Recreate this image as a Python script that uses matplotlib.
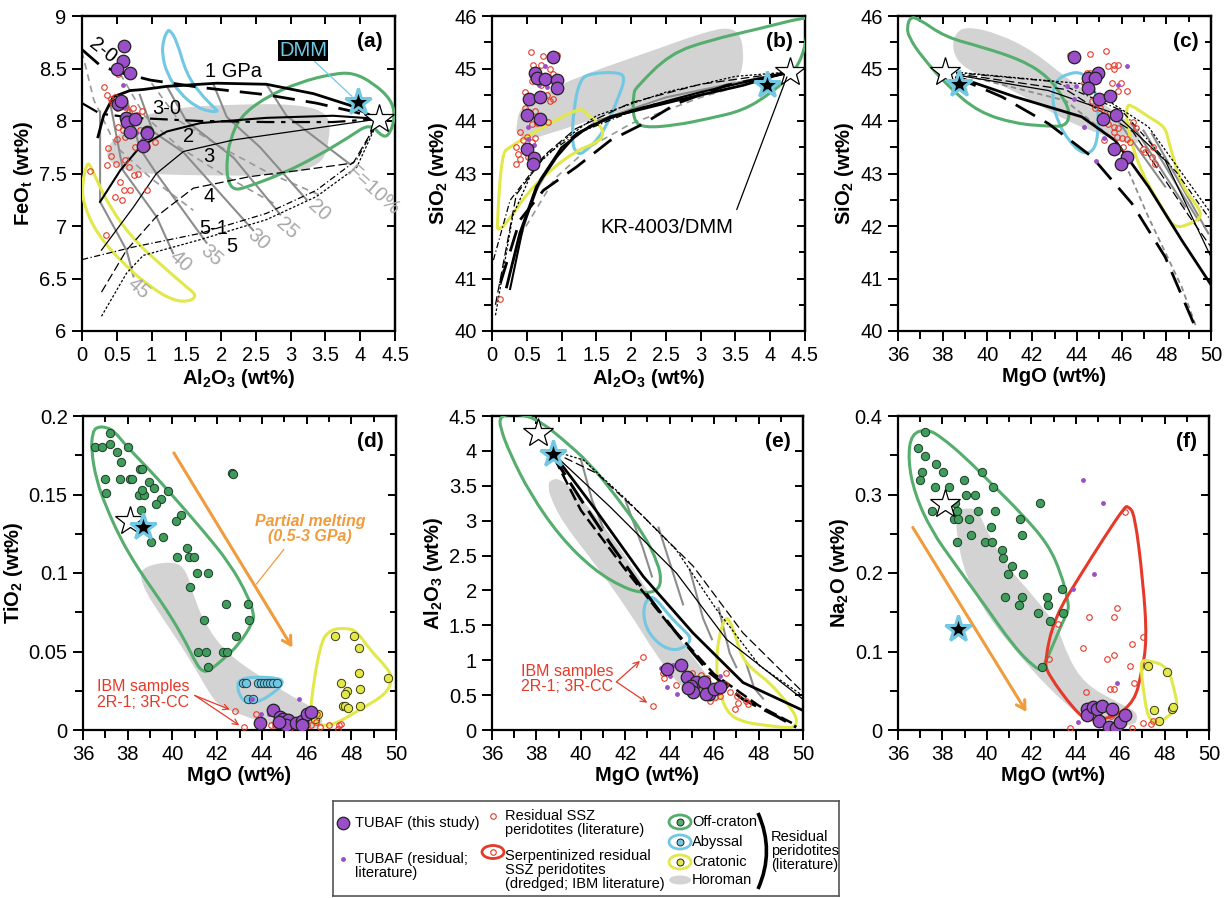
import numpy as np
import matplotlib
matplotlib.use('Agg')
import matplotlib.pyplot as plt
from matplotlib import font_manager
from matplotlib.path import Path
from matplotlib.patches import PathPatch, Ellipse
from matplotlib.ticker import MultipleLocator, FuncFormatter, NullLocator

plt.rcParams['font.family'] = ['Liberation Sans', 'DejaVu Sans']
plt.rcParams['mathtext.fontset'] = 'custom'
plt.rcParams['mathtext.rm'] = 'Liberation Sans'
plt.rcParams['mathtext.bf'] = 'Liberation Sans:bold'
plt.rcParams['mathtext.it'] = 'Liberation Sans:italic'

_names = {f.name for f in font_manager.fontManager.ttflist}
NARROW = 'Liberation Sans Narrow' in _names
LEG_FAMILY = ['Liberation Sans Narrow', 'Liberation Sans'] if NARROW else ['Liberation Sans']
LEG_FS = 12.5 if NARROW else 10.5

GREEN = '#55ad6e'
GREEN_DOT = '#3f9c5c'
BLUE = '#72c8e2'
YELLOW = '#e2e84a'
RED = '#e53a2a'
PURPLE = '#9a4fc8'
GREY_FILL = '#d3d3d3'
ORANGE = '#f09b3c'

# ---------------- stars (KR-4003 / DMM) ----------------
kr_a = (4.27, 8.02); dmm_a = (3.97, 8.18)
kr_b = (4.28, 44.93); dmm_b = (3.95, 44.68)
kr_c = (38.11, 44.93); dmm_c = (38.71, 44.70)
kr_d = (38.12, 0.133); dmm_d = (38.69, 0.129)
kr_e = (38.08, 4.25); dmm_e = (38.76, 3.96)
kr_f = (38.13, 0.288); dmm_f = (38.70, 0.129)

# ---------------- panel (a) FeOt vs Al2O3 ----------------
a_tub_al = [0.61, 0.59, 0.50, 0.69, 0.52, 0.56, 0.63, 0.64, 0.76, 0.69, 0.93, 0.94, 0.87]
a_tub_fe = [8.71, 8.57, 8.50, 8.46, 8.16, 8.19, 8.03, 7.99, 8.02, 7.90, 7.90, 7.89, 7.76]
a_res_al = [0.54, 0.59, 0.62, 0.78, 0.86, 0.93]
a_res_fe = [8.71, 8.34, 8.13, 7.89, 7.82, 7.86]
a_ssz_al = [0.12, 0.34, 0.31, 0.36, 0.41, 0.47, 0.43, 0.50, 0.62, 0.67, 0.74, 0.79, 0.86, 0.59,
            0.52, 0.74, 0.83, 0.50, 0.62, 0.76, 0.37, 0.41, 0.49, 0.36, 0.62, 0.67, 0.75, 0.81,
            0.55, 0.60, 0.69, 0.93, 0.57, 0.47, 0.93, 1.05, 0.52]
a_ssz_fe = [7.52, 6.91, 8.32, 8.25, 8.21, 8.23, 8.18, 8.12, 8.13, 8.09, 8.12, 8.06, 8.10, 7.91,
            7.94, 7.90, 7.91, 7.83, 7.85, 7.75, 7.74, 7.67, 7.59, 7.58, 7.63, 7.56, 7.49, 7.50,
            7.42, 7.34, 7.34, 7.34, 7.25, 7.28, 7.75, 7.80, 8.45]
a_blue_x = [1.17, 1.22, 1.26, 1.36, 1.50, 1.70, 1.91, 1.96, 1.84, 1.65, 1.41, 1.22, 1.15]
a_blue_y = [8.77, 8.85, 8.87, 8.77, 8.45, 8.26, 8.12, 8.09, 8.09, 8.13, 8.26, 8.45, 8.64]
a_green_x = [2.08, 2.13, 2.27, 2.65, 3.13, 3.61, 3.90, 4.19, 4.45, 4.50, 4.43, 4.33, 4.14, 3.85,
             3.37, 2.89, 2.37, 2.18, 2.09]
a_green_y = [7.63, 7.82, 8.04, 8.23, 8.37, 8.45, 8.46, 8.36, 8.20, 8.04, 7.88, 7.84, 7.98, 7.85,
             7.66, 7.50, 7.37, 7.34, 7.44]
a_yel_x = [0.07, 0.12, 0.21, 0.40, 0.74, 1.12, 1.50, 1.65, 1.55, 1.31, 0.98, 0.59, 0.21, 0.02, 0.0]
a_yel_y = [7.60, 7.58, 7.44, 7.18, 6.87, 6.64, 6.42, 6.34, 6.28, 6.29, 6.42, 6.64, 6.93, 7.21, 7.40]
a_hor_x = [0.40, 0.74, 1.22, 2.18, 3.13, 3.56, 3.56, 3.45, 2.89, 1.70, 0.74, 0.40, 0.35]
a_hor_y = [7.79, 8.01, 8.12, 8.16, 8.16, 8.07, 7.82, 7.58, 7.48, 7.48, 7.50, 7.60, 7.69]
# melting models
a_1gpa_x = [0.23, 0.31, 0.45, 0.69, 0.88, 1.22, 1.94, 2.65, 3.33, 3.85, 4.19, 4.27]
a_1gpa_y = [7.85, 8.05, 8.23, 8.29, 8.30, 8.33, 8.36, 8.35, 8.26, 8.15, 8.04, 8.02]
a_20_x = [0.0, 0.26, 0.50, 0.98, 1.70, 2.65, 3.37, 3.90, 4.27]
a_20_y = [8.68, 8.53, 8.47, 8.39, 8.32, 8.25, 8.17, 8.09, 8.02]
a_30_x = [0.0, 0.26, 0.74, 1.70, 2.65, 3.61, 4.27]
a_30_y = [8.17, 8.07, 8.03, 8.00, 7.99, 7.99, 8.02]
a_2_x = [0.26, 0.55, 0.83, 1.22, 1.70, 2.65, 3.61, 4.27]
a_2_y = [7.23, 7.53, 7.75, 7.90, 7.98, 8.03, 8.05, 8.02]
a_3_x = [0.28, 0.74, 1.07, 1.46, 2.18, 3.13, 4.27]
a_3_y = [6.77, 7.18, 7.50, 7.71, 7.82, 7.91, 8.02]
a_4_x = [0.28, 0.64, 1.07, 1.60, 2.41, 3.13, 3.90, 4.27]
a_4_y = [6.37, 6.77, 7.09, 7.36, 7.47, 7.53, 7.60, 8.02]
a_51_x = [0.0, 0.74, 1.70, 2.65, 3.37, 3.95, 4.27]
a_51_y = [6.68, 6.80, 6.93, 7.12, 7.34, 7.63, 8.02]
a_5_x = [0.28, 0.64, 0.88, 1.70, 2.65, 3.37, 3.95, 4.27]
a_5_y = [6.14, 6.55, 6.72, 6.87, 7.06, 7.28, 7.56, 8.02]
a_iso_x = [[2.65, 2.94, 3.85], [1.89, 2.08, 2.56, 3.23], [1.22, 1.50, 2.18, 2.85],
           [0.83, 1.02, 1.46, 2.46], [0.64, 0.83, 1.07, 1.79], [0.40, 0.59, 1.07, 1.31],
           [0.26, 0.26, 0.64, 0.74]]
a_iso_y = [[8.35, 8.05, 7.59], [8.35, 8.04, 7.75, 7.25], [8.33, 8.00, 7.65, 7.11],
           [8.25, 7.90, 7.70, 6.96], [8.22, 7.74, 7.50, 6.84], [8.19, 7.53, 7.09, 6.74],
           [8.09, 7.23, 6.77, 6.52]]
a_iso_lab = ['F=10%', '20', '25', '30', '35', '40', '45']
a_iso_lx = [4.18, 3.41, 2.95, 2.53, 1.86, 1.41, 0.81]
a_iso_ly = [7.34, 7.15, 6.98, 6.87, 6.72, 6.66, 6.41]
a_gd_x = [[0.0, 0.17, 0.5, 1.0, 1.6], [0.55, 0.9, 1.4, 2.0, 2.8], [1.0, 1.4, 2.0, 2.7, 3.4]]
a_gd_y = [[8.66, 8.2, 7.75, 7.45, 7.15], [8.45, 8.05, 7.75, 7.5, 7.2], [8.36, 8.0, 7.75, 7.5, 7.3]]

# ---------------- panel (b) SiO2 vs Al2O3 ----------------
b_tub_al = [0.87, 0.62, 0.64, 0.76, 0.93, 0.93, 0.53, 0.69, 0.50, 0.69, 0.50, 0.60, 0.59]
b_tub_si = [45.21, 44.91, 44.81, 44.80, 44.79, 44.62, 44.41, 44.46, 44.11, 44.03, 43.47, 43.30, 43.18]
b_res_al = [0.76, 0.67, 0.79, 0.52, 0.52, 0.60]
b_res_si = [45.04, 44.68, 44.65, 43.89, 43.65, 43.54]
b_ssz_al = [0.56, 0.59, 0.74, 0.71, 0.93, 0.64, 0.83, 0.57, 0.71, 0.88, 0.47, 0.79, 0.83, 0.88,
            0.62, 0.47, 0.64, 0.57, 0.81, 0.40, 0.50, 0.45, 0.62, 0.57, 0.35, 0.38, 0.47, 0.40,
            0.35, 0.52, 0.11]
b_ssz_si = [45.31, 45.06, 45.23, 45.06, 45.25, 44.93, 45.00, 44.77, 44.68, 44.90, 44.55, 44.49,
            44.39, 44.41, 44.20, 44.24, 43.96, 43.94, 43.98, 43.79, 43.70, 43.63, 43.67, 43.60,
            43.51, 43.38, 43.48, 43.28, 43.18, 43.32, 40.61]
b_green_x = [2.03, 2.08, 2.56, 3.13, 3.85, 4.50, 4.55, 4.50, 4.33, 4.00, 3.61, 3.13, 2.65, 2.18, 2.03]
b_green_y = [44.52, 44.65, 45.28, 45.54, 45.76, 45.98, 45.92, 45.35, 44.90, 44.52, 44.20, 44.05,
             43.92, 43.87, 44.01]
b_blue_x = [1.17, 1.26, 1.41, 1.84, 1.91, 1.84, 1.60, 1.31, 1.22, 1.15]
b_blue_y = [44.20, 44.78, 44.91, 44.93, 44.81, 44.52, 43.76, 43.38, 43.38, 43.57]
b_yel_x = [0.07, 0.14, 0.26, 0.74, 1.26, 1.34, 1.58, 1.60, 1.48, 1.22, 0.83, 0.50, 0.21, 0.09]
b_yel_y = [41.98, 43.38, 43.51, 43.89, 44.25, 44.17, 43.89, 43.70, 43.57, 43.44, 43.06, 42.62,
           42.05, 41.92]
b_hor_x = [0.35, 0.40, 0.74, 1.22, 2.18, 3.13, 3.47, 3.61, 3.61, 3.37, 2.65, 1.70, 0.98, 0.50, 0.35]
b_hor_y = [43.89, 44.27, 44.52, 44.84, 45.28, 45.73, 45.78, 45.54, 44.90, 44.58, 44.46, 44.14,
           43.82, 43.63, 43.76]
b_solid1_x = [0.21, 0.40, 0.64, 0.93, 1.22, 1.70, 2.65, 3.61, 4.24]
b_solid1_y = [40.84, 41.86, 42.75, 43.32, 43.76, 44.08, 44.39, 44.68, 44.93]
b_solid2_x = [0.26, 0.45, 0.70, 1.00, 1.40, 2.00, 3.00, 4.00, 4.27]
b_solid2_y = [40.80, 42.00, 42.90, 43.50, 43.90, 44.20, 44.55, 44.85, 44.93]
b_ldash_x = [0.12, 0.40, 0.74, 1.22, 1.70, 2.18, 2.65, 3.37, 4.24]
b_ldash_y = [40.91, 42.11, 42.68, 43.13, 43.63, 43.95, 44.33, 44.68, 44.91]
b_dd_x = [0.02, 0.26, 0.74, 1.22, 2.18, 3.61, 4.24]
b_dd_y = [41.35, 42.49, 43.32, 43.76, 44.27, 44.74, 44.93]
b_dot_x = [0.05, 0.30, 0.60, 1.00, 1.50, 2.50, 3.50, 4.24]
b_dot_y = [40.30, 42.20, 43.10, 43.60, 44.10, 44.55, 44.85, 44.93]
b_tdash_x = [0.05, 0.35, 0.80, 1.20, 2.00, 3.00, 4.24]
b_tdash_y = [40.50, 42.60, 43.40, 43.85, 44.35, 44.70, 44.93]
b_grey_x = [0.30, 0.60, 1.00, 1.50, 2.50, 4.24]
b_grey_y = [41.30, 42.60, 43.50, 44.00, 44.45, 44.93]
b_greyd_x = [0.40, 0.90, 1.40, 2.00, 3.00, 4.24]
b_greyd_y = [41.80, 42.90, 43.50, 43.95, 44.45, 44.93]

# ---------------- panel (c) SiO2 vs MgO ----------------
c_tub_mg = [43.89, 44.94, 44.52, 44.79, 44.52, 45.01, 45.50, 45.17, 45.76, 45.65, 46.23, 45.99]
c_tub_si = [45.21, 44.91, 44.81, 44.81, 44.62, 44.42, 44.48, 44.04, 44.12, 43.47, 43.31, 43.19]
c_res_mg = [43.57, 43.97, 43.88, 46.23, 45.86, 44.34, 45.23, 44.86]
c_res_si = [44.66, 44.66, 44.41, 45.04, 44.68, 43.89, 43.67, 43.24]
c_ssz_mg = [43.70, 44.61, 45.29, 45.38, 45.64, 45.83, 45.64, 45.56, 45.98, 45.86, 46.25, 44.45,
            44.60, 44.30, 44.67, 44.82, 45.04, 45.26, 45.41, 45.64, 45.86, 45.64, 45.79, 46.01,
            46.23, 46.53, 46.65, 46.38, 46.08, 46.98, 47.05, 47.42, 47.38, 47.50, 45.23]
c_ssz_si = [45.25, 45.27, 45.33, 45.05, 45.06, 45.06, 45.00, 44.72, 44.72, 44.58, 44.57, 44.91,
            44.91, 44.72, 44.39, 44.24, 44.25, 44.14, 43.95, 43.89, 43.86, 43.79, 43.70, 43.67,
            43.65, 43.99, 43.87, 43.60, 43.51, 43.47, 43.41, 43.51, 43.32, 43.19, 43.63]
c_green_x = [36.40, 36.55, 36.92, 38.11, 39.75, 41.54, 42.73, 43.48, 43.70, 43.48, 42.73, 41.24,
             39.60, 38.26, 37.07, 36.48]
c_green_y = [45.79, 45.98, 45.95, 45.60, 45.41, 45.16, 44.84, 44.39, 44.11, 43.90, 43.90, 43.95,
             44.17, 44.65, 45.22, 45.60]
c_blue_x = [43.03, 43.63, 44.22, 44.74, 44.94, 44.97, 44.74, 44.22, 43.63, 43.18, 42.88]
c_blue_y = [44.77, 44.91, 44.93, 44.71, 44.27, 43.76, 43.41, 43.38, 43.63, 43.95, 44.39]
c_yel_x = [46.23, 46.38, 47.20, 47.95, 48.09, 48.69, 49.43, 49.58, 49.14, 48.39, 47.95, 46.90,
           46.31, 46.23]
c_yel_y = [44.27, 44.32, 44.08, 43.89, 43.63, 42.75, 42.37, 42.17, 42.05, 41.95, 42.24, 43.00,
           43.76, 44.08]
c_hor_x = [38.56, 39.16, 40.50, 41.99, 43.48, 44.97, 46.46, 46.90, 46.60, 44.97, 43.48, 41.99,
           40.20, 38.86, 38.41]
c_hor_y = [45.69, 45.80, 45.66, 45.35, 44.84, 44.39, 43.95, 43.70, 43.51, 43.76, 44.01, 44.39,
           44.77, 45.03, 45.35]
c_ldash_x = [38.56, 40.65, 42.73, 44.67, 46.46, 47.95, 49.29]
c_ldash_y = [44.84, 44.46, 43.95, 43.32, 42.43, 41.41, 40.08]
c_solid_x = [38.71, 41.24, 44.22, 45.71, 47.20, 48.69, 50.0]
c_solid_y = [44.83, 44.46, 44.08, 43.63, 42.75, 41.73, 40.88]
c_thin_x = [38.70, 42.73, 45.71, 47.95, 50.0]
c_thin_y = [44.87, 44.58, 44.14, 43.25, 41.41]
c_gdot_x = [38.70, 43.48, 45.71, 47.20, 48.69, 49.36]
c_gdot_y = [44.90, 44.39, 43.63, 42.17, 40.84, 40.05]
c_dot_x = [38.60, 44.22, 47.20, 50.0]
c_dot_y = [44.93, 44.71, 43.89, 42.24]
c_dd_x = [38.60, 43.00, 46.00, 48.50, 50.0]
c_dd_y = [44.92, 44.75, 44.20, 43.00, 42.10]
c_tdash_x = [38.60, 43.50, 46.50, 49.00, 50.0]
c_tdash_y = [44.90, 44.60, 43.80, 42.20, 41.60]
c_iso_x = [[45.71, 47.95], [46.46, 48.84], [46.98, 49.43], [47.35, 49.88]]
c_iso_y = [[44.08, 42.75], [43.95, 42.37], [43.82, 42.11], [43.76, 41.86]]

# ---------------- panel (d) TiO2 vs MgO ----------------
d_tub_mg = [44.51, 43.90, 44.79, 44.93, 45.19, 45.06, 45.52, 45.78, 46.00, 46.22, 44.75, 45.78]
d_tub_ti = [0.0127, 0.0047, 0.0081, 0.0068, 0.0064, 0.0032, 0.0042, 0.0057, 0.0100, 0.0117,
            0.0053, 0.0030]
d_res_mg = [43.57, 43.96, 44.33, 45.66]
d_res_ti = [0.020, 0.010, 0.010, 0.020]
d_ssz_mg = [42.81, 43.21, 43.75, 44.39, 44.58, 45.25, 45.88, 46.22, 46.40, 46.60, 47.00, 47.46,
            47.52, 47.40, 45.70, 46.00, 46.45]
d_ssz_ti = [0.012, 0.002, 0.010, 0.003, 0.003, 0.001, 0.011, 0.003, 0.005, 0.002, 0.003, 0.003,
            0.004, 0.0005, 0.003, 0.003, 0.010]
d_off_mg = [36.54, 36.87, 37.19, 37.19, 36.97, 37.04, 37.52, 37.72, 37.67, 38.09, 38.21, 38.03,
            38.54, 38.66, 38.51, 38.72, 38.64, 38.61, 38.94, 39.18, 39.48, 39.25, 39.78, 39.06,
            39.60, 40.39, 40.18, 40.66, 40.22, 40.73, 40.97, 41.12, 41.60, 40.79, 42.67, 42.72,
            42.39, 43.39, 41.42, 43.42, 42.84, 41.16, 41.48, 42.28, 42.45, 41.58]
d_off_ti = [0.180, 0.180, 0.189, 0.182, 0.160, 0.151, 0.177, 0.171, 0.160, 0.160, 0.160, 0.180,
            0.166, 0.166, 0.150, 0.150, 0.153, 0.140, 0.158, 0.154, 0.147, 0.144, 0.152, 0.120,
            0.123, 0.137, 0.133, 0.116, 0.110, 0.110, 0.110, 0.100, 0.100, 0.091, 0.164, 0.163,
            0.080, 0.080, 0.070, 0.070, 0.060, 0.050, 0.050, 0.050, 0.050, 0.040]
d_aby_mg = [43.15, 43.31, 43.81, 43.96, 44.10, 44.25, 44.37, 44.52, 44.67, 43.39, 43.61]
d_aby_ti = [0.030, 0.030, 0.030, 0.030, 0.030, 0.030, 0.030, 0.030, 0.030, 0.020, 0.020]
d_cra_mg = [47.25, 48.10, 48.33, 48.33, 47.54, 47.81, 47.70, 47.64, 47.73, 47.87, 48.39, 48.37,
            49.64, 46.39, 46.52]
d_cra_ti = [0.060, 0.060, 0.052, 0.036, 0.030, 0.025, 0.023, 0.015, 0.015, 0.014, 0.026, 0.015,
            0.033, 0.007, 0.010]
d_green_x = [36.60, 37.04, 37.42, 37.87, 38.54, 39.28, 40.33, 41.37, 42.57, 43.39, 43.64, 43.61,
             43.01, 42.27, 41.67, 41.37, 41.07, 40.63, 40.03, 39.43, 38.84, 38.24, 37.64, 37.04,
             36.60, 36.37, 36.42]
d_green_y = [0.193, 0.193, 0.190, 0.182, 0.172, 0.161, 0.144, 0.127, 0.106, 0.085, 0.074, 0.069,
             0.055, 0.045, 0.038, 0.037, 0.042, 0.055, 0.070, 0.083, 0.095, 0.108, 0.123, 0.142,
             0.159, 0.178, 0.189]
d_hor_x = [38.69, 39.28, 40.03, 40.48, 40.78, 41.00, 41.52, 42.42, 43.91, 45.40, 46.45, 46.75,
           46.60, 45.70, 44.21, 43.01, 42.12, 41.67, 41.07, 40.33, 39.43, 38.84, 38.54]
d_hor_y = [0.103, 0.106, 0.107, 0.104, 0.095, 0.083, 0.066, 0.049, 0.034, 0.021, 0.013, 0.006,
           0.001, 0.001, 0.004, 0.010, 0.015, 0.023, 0.038, 0.055, 0.074, 0.087, 0.098]
d_blue_x = [43.01, 43.61, 44.81, 44.96, 44.66, 43.91, 43.31, 42.99, 42.90]
d_blue_y = [0.032, 0.034, 0.033, 0.030, 0.025, 0.018, 0.017, 0.022, 0.029]
d_yel_x = [46.15, 46.60, 47.04, 47.79, 48.24, 48.84, 49.58, 49.85, 49.58, 48.39, 47.19, 46.60, 46.22]
d_yel_y = [0.014, 0.055, 0.064, 0.065, 0.063, 0.051, 0.040, 0.033, 0.023, 0.013, 0.003, 0.003, 0.006]

# ---------------- panel (e) Al2O3 vs MgO ----------------
e_tub_mg = [43.90, 44.53, 44.77, 45.17, 45.55, 44.98, 45.04, 45.77, 45.62, 45.98, 46.25, 44.84]
e_tub_al = [0.87, 0.93, 0.76, 0.69, 0.69, 0.63, 0.55, 0.52, 0.51, 0.59, 0.62, 0.60]
e_res_mg = [43.60, 44.15, 43.88, 44.35, 44.00, 46.27, 46.03]
e_res_al = [0.89, 0.93, 0.62, 0.52, 0.78, 0.78, 0.62]
e_ssz_mg = [42.81, 43.23, 43.75, 44.30, 45.00, 45.43, 45.68, 45.35, 45.88, 46.18, 46.25, 45.80,
            46.03, 46.55, 46.48, 46.70, 47.05, 47.08, 46.93, 47.45, 47.53, 44.75, 43.70]
e_ssz_al = [1.05, 0.34, 0.75, 0.64, 0.81, 0.79, 0.74, 0.63, 0.59, 0.54, 0.49, 0.42, 0.47, 0.81,
            0.66, 0.55, 0.49, 0.38, 0.30, 0.42, 0.37, 0.63, 0.82]
e_green_x = [36.36, 36.81, 37.56, 38.31, 39.06, 40.41, 41.61, 42.81, 43.48, 43.63, 43.41, 42.81,
             41.91, 40.56, 39.06, 37.71, 36.81, 36.36]
e_green_y = [4.49, 4.53, 4.51, 4.39, 4.20, 3.82, 3.34, 2.82, 2.39, 2.13, 1.99, 1.96, 2.04, 2.30,
             2.77, 3.39, 3.96, 4.34]
e_hor_x = [38.61, 39.06, 39.96, 41.31, 42.51, 43.71, 44.90, 45.80, 46.33, 46.25, 45.50, 44.45,
           43.41, 42.21, 40.71, 39.21, 38.61, 38.53]
e_hor_y = [3.58, 3.61, 3.34, 2.82, 2.25, 1.63, 1.11, 0.73, 0.54, 0.39, 0.42, 0.63, 1.06, 1.68,
           2.35, 2.96, 3.34, 3.51]
e_blue_x = [43.11, 42.81, 42.88, 43.41, 44.15, 44.75, 44.98, 44.60, 44.00, 43.41]
e_blue_y = [1.92, 1.77, 1.49, 1.25, 1.13, 1.20, 1.32, 1.44, 1.63, 1.87]
e_yel_x = [46.10, 46.18, 46.48, 46.70, 47.00, 47.30, 47.90, 48.50, 49.40, 49.78, 49.55, 48.50,
           47.30, 46.55, 46.18]
e_yel_y = [0.92, 1.30, 1.61, 1.58, 1.30, 1.01, 0.82, 0.68, 0.35, 0.13, 0.02, 0.06, 0.11, 0.25, 0.63]
e_ldash_x = [38.76, 39.06, 40.11, 41.31, 42.81, 44.30, 45.80, 47.30, 48.80, 49.70]
e_ldash_y = [3.96, 3.77, 3.25, 2.68, 2.01, 1.39, 0.82, 0.44, 0.20, 0.04]
e_solid_x = [38.76, 40.56, 42.81, 45.05, 47.30, 50.0]
e_solid_y = [3.96, 3.20, 2.20, 1.39, 0.68, 0.28]
e_dash2_x = [38.80, 40.00, 42.00, 44.00, 46.00, 48.00, 49.50]
e_dash2_y = [3.90, 3.15, 2.30, 1.50, 0.80, 0.35, 0.10]
e_thin_x = [38.76, 41.31, 44.30, 46.55, 50.0]
e_thin_y = [3.96, 3.20, 2.25, 1.30, 0.44]
e_dot_x = [38.76, 40.11, 42.06, 44.30, 46.10, 48.05, 50.0]
e_dot_y = [4.00, 3.87, 3.30, 2.58, 1.73, 0.92, 0.49]
e_tdash_x = [38.76, 40.71, 42.81, 45.05, 47.30, 50.0]
e_tdash_y = [3.98, 3.68, 3.06, 2.35, 1.39, 0.54]
e_iso_x = [[40.0, 40.5, 41.0], [42.0, 42.8, 43.2], [43.5, 44.2, 44.6], [44.9, 45.5, 45.9],
           [46.2, 46.7, 47.0], [47.4, 47.8, 48.2]]
e_iso_y = [[3.88, 3.30, 2.90], [3.30, 2.60, 2.20], [2.90, 2.20, 1.80], [2.30, 1.60, 1.30],
           [1.75, 1.10, 0.90], [1.00, 0.60, 0.45]]

# ---------------- panel (f) Na2O vs MgO ----------------
f_tub_mg = [44.52, 44.51, 44.79, 44.96, 45.20, 45.65, 45.03, 45.51, 45.80, 45.99, 46.22]
f_tub_na = [0.027, 0.019, 0.029, 0.027, 0.030, 0.027, 0.011, 0.004, 0.0026, 0.010, 0.019]
f_res_mg = [44.34, 45.24, 44.84, 43.86, 45.86, 44.12]
f_res_na = [0.319, 0.289, 0.199, 0.179, 0.060, 0.010]
f_ssz_mg = [46.22, 45.84, 45.71, 44.60, 43.22, 44.31, 45.72, 45.41, 46.53, 47.03, 46.44, 46.64,
            45.56, 45.71, 44.48, 42.80, 47.03, 47.40, 47.48, 46.53, 43.76, 46.02, 45.57]
f_ssz_na = [0.278, 0.156, 0.144, 0.144, 0.135, 0.104, 0.096, 0.091, 0.110, 0.119, 0.081, 0.060,
            0.052, 0.052, 0.049, 0.091, 0.009, 0.008, 0.011, 0.002, 0.003, 0.018, 0.018]
f_off_mg = [37.20, 36.89, 37.20, 37.07, 36.99, 37.73, 38.04, 37.68, 38.28, 38.96, 39.08, 39.48,
            39.78, 40.28, 37.53, 38.55, 38.66, 38.52, 38.72, 39.18, 39.62, 40.38, 39.27, 38.64,
            39.93, 40.22, 40.19, 41.49, 41.58, 42.41, 40.67, 40.73, 41.12, 40.97, 41.61, 40.80,
            41.46, 41.60, 42.69, 42.74, 42.30, 42.86, 43.37, 43.44, 42.47]
f_off_na = [0.379, 0.359, 0.349, 0.329, 0.319, 0.339, 0.329, 0.309, 0.309, 0.319, 0.299, 0.299,
            0.329, 0.309, 0.279, 0.289, 0.279, 0.269, 0.269, 0.269, 0.279, 0.279, 0.249, 0.239,
            0.239, 0.239, 0.259, 0.269, 0.249, 0.289, 0.229, 0.219, 0.209, 0.199, 0.199, 0.169,
            0.159, 0.169, 0.169, 0.159, 0.149, 0.139, 0.179, 0.149, 0.080]
f_cra_mg = [47.27, 48.10, 47.52, 47.73, 48.34, 48.40]
f_cra_na = [0.081, 0.074, 0.025, 0.011, 0.027, 0.029]
f_green_x = [36.60, 37.35, 37.95, 39.00, 40.20, 41.55, 42.75, 43.35, 43.65, 43.68, 43.43, 42.75,
             42.45, 42.15, 41.25, 39.75, 38.55, 37.50, 36.75, 36.45]
f_green_y = [0.378, 0.383, 0.373, 0.348, 0.314, 0.276, 0.237, 0.199, 0.165, 0.152, 0.139, 0.093,
             0.076, 0.080, 0.105, 0.165, 0.212, 0.254, 0.301, 0.344]
f_hor_x = [38.70, 39.15, 39.60, 40.05, 40.95, 42.15, 43.20, 43.65, 44.40, 45.75, 46.65, 46.80,
           46.65, 45.30, 44.25, 42.75, 41.40, 40.05, 39.00, 38.63, 38.63]
f_hor_y = [0.280, 0.283, 0.280, 0.250, 0.207, 0.169, 0.131, 0.093, 0.059, 0.037, 0.025, 0.016,
           0.006, 0.003, 0.016, 0.054, 0.097, 0.144, 0.199, 0.250, 0.271]
f_red_x = [46.35, 46.20, 45.30, 44.25, 43.05, 42.60, 42.75, 43.95, 44.55, 45.75, 46.65, 46.95,
           47.21, 47.03, 46.65]
f_red_y = [0.285, 0.284, 0.246, 0.199, 0.144, 0.088, 0.071, 0.025, 0.012, 0.016, 0.037, 0.071,
           0.114, 0.190, 0.276]
f_yel_x = [46.95, 47.25, 48.15, 48.45, 48.60, 48.15, 47.70, 47.25, 47.03, 46.95]
f_yel_y = [0.088, 0.089, 0.081, 0.050, 0.029, 0.017, 0.008, 0.014, 0.054, 0.076]


def hull(ax, xs, ys, color, fill=False, lw=2.2, z=3):
    # smooth closed outline through the digitised vertices
    pts = np.column_stack([xs, ys])
    mids = (pts + np.roll(pts, -1, axis=0)) / 2
    verts = [mids[-1]]
    codes = [Path.MOVETO]
    for i in range(len(pts)):
        verts += [pts[i], mids[i]]
        codes += [Path.CURVE3, Path.CURVE3]
    if fill:
        patch = PathPatch(Path(verts, codes), facecolor=color, edgecolor='none', zorder=z)
    else:
        patch = PathPatch(Path(verts, codes), facecolor='none', edgecolor=color, lw=lw, zorder=z)
    ax.add_patch(patch)


def setup(ax, xlim, ylim, xmaj, xmin, ymaj, ymin, xlabel, ylabel, tag):
    ax.set_xlim(*xlim)
    ax.set_ylim(*ylim)
    fmt = FuncFormatter(lambda v, p: '{:g}'.format(round(v, 4)))
    ax.xaxis.set_major_formatter(fmt)
    ax.yaxis.set_major_formatter(fmt)
    # outward ticks on left / bottom
    for axis, maj, mnr in [(ax.xaxis, xmaj, xmin), (ax.yaxis, ymaj, ymin)]:
        axis.set_major_locator(MultipleLocator(maj))
        axis.set_minor_locator(MultipleLocator(mnr) if mnr else NullLocator())
    ax.tick_params(which='both', direction='out', width=1.4, labelsize=14.5)
    ax.tick_params(which='major', length=7, pad=4)
    ax.tick_params(which='minor', length=6)
    # inward ticks on top / right
    top = ax.secondary_xaxis('top')
    right = ax.secondary_yaxis('right')
    for sec, axis, maj, mnr in [(top, top.xaxis, xmaj, xmin), (right, right.yaxis, ymaj, ymin)]:
        axis.set_major_locator(MultipleLocator(maj))
        axis.set_minor_locator(MultipleLocator(mnr) if mnr else NullLocator())
        sec.tick_params(which='both', direction='in', width=1.4, labeltop=False,
                        labelright=False)
        sec.tick_params(which='major', length=6)
        sec.tick_params(which='minor', length=4)
        for s in sec.spines.values():
            s.set_linewidth(1.6)
    for s in ax.spines.values():
        s.set_linewidth(1.6)
    ax.set_xlabel(xlabel, fontsize=14.5, fontweight='bold', labelpad=1)
    ax.set_ylabel(ylabel, fontsize=14.5, fontweight='bold', labelpad=3)
    ax.text(0.96, 0.95, tag, transform=ax.transAxes, ha='right', va='top', fontsize=15,
            fontweight='bold', zorder=10)


def stars(ax, kr, dmm):
    ax.plot(*kr, marker='*', ms=22, mfc='white', mec='black', mew=0.9, zorder=9, clip_on=False)
    ax.plot(*dmm, marker='*', ms=20, mfc='black', mec=BLUE, mew=2.2, zorder=9, clip_on=False)


def tubaf(ax, x, y, rx, ry, sx, sy):
    ax.plot(sx, sy, 'o', ms=4, mfc='none', mec=RED, mew=0.8, ls='none', zorder=5)
    ax.plot(rx, ry, 'o', ms=3.5, mfc=PURPLE, mec='none', ls='none', zorder=6)
    ax.plot(x, y, 'o', ms=9, mfc=PURPLE, mec='#222222', mew=0.9, ls='none', zorder=7)


W, H = 1229, 898
fig = plt.figure(figsize=(W / 100, H / 100), dpi=100)


def box(l, t, r, b):
    return [l / W, 1 - b / H, (r - l) / W, (b - t) / H]


ax_a = fig.add_axes(box(82, 16, 395, 331))
ax_b = fig.add_axes(box(492, 16, 805, 331))
ax_c = fig.add_axes(box(898, 16, 1211, 331))
ax_d = fig.add_axes(box(83, 416, 396, 730))
ax_e = fig.add_axes(box(492, 416, 803, 730))
ax_f = fig.add_axes(box(898, 416, 1209, 730))

AL = r'Al$_\mathbf{2}$O$_\mathbf{3}$ (wt%)'
MG = 'MgO (wt%)'
SI = r'SiO$_\mathbf{2}$ (wt%)'

# ---- (a)
ax = ax_a
setup(ax, (0, 4.5), (6, 9), 0.5, None, 0.5, None, AL, r'FeO$_\mathbf{t}$ (wt%)', '(a)')
hull(ax, a_hor_x, a_hor_y, GREY_FILL, fill=True, z=1)
for xs, ys in zip(a_gd_x, a_gd_y):
    ax.plot(xs, ys, color='#999999', lw=1.2, ls=(0, (4, 3)), zorder=2)
for xs, ys in zip(a_iso_x, a_iso_y):
    ax.plot(xs, ys, color='#8c8c8c', lw=1.5, zorder=2)
for lab, lx, ly in zip(a_iso_lab, a_iso_lx, a_iso_ly):
    ax.text(lx, ly, lab, color='#a8a8a8', fontsize=14.5, rotation=-42, ha='center', va='center',
            zorder=8)
ax.plot(a_1gpa_x, a_1gpa_y, color='black', lw=2.0, zorder=4)
ax.plot(a_20_x, a_20_y, color='black', lw=2.0, ls=(0, (8, 4)), zorder=4)
ax.plot(a_30_x, a_30_y, color='black', lw=1.6, ls=(0, (8, 3, 2, 3)), zorder=4)
ax.plot(a_2_x, a_2_y, color='black', lw=1.5, zorder=4)
ax.plot(a_3_x, a_3_y, color='black', lw=0.9, zorder=4)
ax.plot(a_4_x, a_4_y, color='black', lw=0.9, ls=(0, (7, 3)), zorder=4)
ax.plot(a_51_x, a_51_y, color='black', lw=0.9, ls=(0, (5, 2, 1, 2)), zorder=4)
ax.plot(a_5_x, a_5_y, color='black', lw=0.9, ls=(0, (2, 1.5)), zorder=4)
for t, x, y, r in [('2-0', 0.30, 8.67, -38), ('1 GPa', 2.18, 8.47, 0), ('3-0', 1.22, 8.12, 0),
                   ('2', 1.53, 7.85, 0), ('3', 1.83, 7.66, 0), ('4', 1.83, 7.28, 0),
                   ('5-1', 1.89, 6.98, 0), ('5', 2.16, 6.80, 0)]:
    ax.text(x, y, t, fontsize=14.5, rotation=r, ha='center', va='center', zorder=8)
hull(ax, a_blue_x, a_blue_y, BLUE)
hull(ax, a_green_x, a_green_y, GREEN)
hull(ax, a_yel_x, a_yel_y, YELLOW)
tubaf(ax, a_tub_al, a_tub_fe, a_res_al, a_res_fe, a_ssz_al, a_ssz_fe)
stars(ax, kr_a, dmm_a)
ax.annotate('DMM', xy=dmm_a, xytext=(3.18, 8.67), fontsize=14.5, color=BLUE, ha='center',
            va='center', zorder=9,
            bbox=dict(boxstyle='square,pad=0.05', fc='black', ec='none'),
            arrowprops=dict(arrowstyle='-', color=BLUE, lw=0.9, shrinkA=0, shrinkB=6))

# ---- (b)
ax = ax_b
setup(ax, (0, 4.5), (40, 46), 0.5, None, 1, 0.5, AL, SI, '(b)')
hull(ax, b_hor_x, b_hor_y, GREY_FILL, fill=True, z=1)
ax.plot(b_grey_x, b_grey_y, color='#8c8c8c', lw=1.5, zorder=2)
ax.plot(b_greyd_x, b_greyd_y, color='#999999', lw=1.2, ls=(0, (4, 3)), zorder=2)
ax.plot(b_solid1_x, b_solid1_y, color='black', lw=2.0, zorder=4)
ax.plot(b_solid2_x, b_solid2_y, color='black', lw=1.5, zorder=4)
ax.plot(b_ldash_x, b_ldash_y, color='black', lw=2.0, ls=(0, (8, 4)), zorder=4)
ax.plot(b_dd_x, b_dd_y, color='black', lw=0.9, ls=(0, (5, 2, 1, 2)), zorder=4)
ax.plot(b_dot_x, b_dot_y, color='black', lw=0.9, ls=(0, (2, 1.5)), zorder=4)
ax.plot(b_tdash_x, b_tdash_y, color='black', lw=0.9, ls=(0, (7, 3)), zorder=4)
hull(ax, b_blue_x, b_blue_y, BLUE)
hull(ax, b_green_x, b_green_y, GREEN)
hull(ax, b_yel_x, b_yel_y, YELLOW)
tubaf(ax, b_tub_al, b_tub_si, b_res_al, b_res_si, b_ssz_al, b_ssz_si)
stars(ax, kr_b, dmm_b)
ax.annotate('KR-4003/DMM', xy=(4.24, 44.84), xytext=(2.51, 41.98), fontsize=14.5, ha='center',
            va='center', zorder=9,
            arrowprops=dict(arrowstyle='-', color='black', lw=0.9, shrinkA=4, shrinkB=0,
                            relpos=(1.0, 0.9)))

# ---- (c)
ax = ax_c
setup(ax, (36, 50), (40, 46), 2, 1, 1, 0.5, MG, SI, '(c)')
hull(ax, c_hor_x, c_hor_y, GREY_FILL, fill=True, z=1)
for xs, ys in zip(c_iso_x, c_iso_y):
    ax.plot(xs, ys, color='#8c8c8c', lw=1.5, zorder=2)
ax.plot(c_gdot_x, c_gdot_y, color='#8c8c8c', lw=1.3, ls=(0, (3, 2)), zorder=2)
ax.plot(c_ldash_x, c_ldash_y, color='black', lw=2.0, ls=(0, (8, 4)), zorder=4)
ax.plot(c_solid_x, c_solid_y, color='black', lw=2.0, zorder=4)
ax.plot(c_thin_x, c_thin_y, color='black', lw=0.9, zorder=4)
ax.plot(c_dot_x, c_dot_y, color='black', lw=0.9, ls=(0, (2, 1.5)), zorder=4)
ax.plot(c_dd_x, c_dd_y, color='black', lw=0.9, ls=(0, (5, 2, 1, 2)), zorder=4)
ax.plot(c_tdash_x, c_tdash_y, color='black', lw=0.9, ls=(0, (7, 3)), zorder=4)
hull(ax, c_blue_x, c_blue_y, BLUE)
hull(ax, c_green_x, c_green_y, GREEN)
hull(ax, c_yel_x, c_yel_y, YELLOW)
tubaf(ax, c_tub_mg, c_tub_si, c_res_mg, c_res_si, c_ssz_mg, c_ssz_si)
stars(ax, kr_c, dmm_c)

# ---- (d)
ax = ax_d
setup(ax, (36, 50), (0, 0.2), 2, 1, 0.05, 0.025, MG, r'TiO$_\mathbf{2}$ (wt%)', '(d)')
hull(ax, d_hor_x, d_hor_y, GREY_FILL, fill=True, z=1)
hull(ax, d_green_x, d_green_y, GREEN)
hull(ax, d_blue_x, d_blue_y, BLUE)
hull(ax, d_yel_x, d_yel_y, YELLOW)
ax.plot(d_off_mg, d_off_ti, 'o', ms=6, mfc=GREEN_DOT, mec='#1c3d26', mew=0.7, ls='none', zorder=5)
ax.plot(d_aby_mg, d_aby_ti, 'o', ms=6, mfc=BLUE, mec='#1f3f4a', mew=0.7, ls='none', zorder=5)
ax.plot(d_cra_mg, d_cra_ti, 'o', ms=6, mfc=YELLOW, mec='#3c3c10', mew=0.7, ls='none', zorder=5)
tubaf(ax, d_tub_mg, d_tub_ti, d_res_mg, d_res_ti, d_ssz_mg, d_ssz_ti)
stars(ax, kr_d, dmm_d)
ax.annotate('', xy=(45.43, 0.051), xytext=(40.0, 0.178), zorder=6,
            arrowprops=dict(arrowstyle='->,head_length=0.6,head_width=0.35', color=ORANGE, lw=2.2))
ax.annotate('Partial melting\n(0.5-3 GPa)', xy=(43.76, 0.093), xytext=(46.15, 0.128),
            fontsize=11.5, color=ORANGE, fontweight='bold', fontstyle='italic', ha='center',
            va='center', zorder=8, linespacing=1.05,
            arrowprops=dict(arrowstyle='-', color=ORANGE, lw=0.9, shrinkA=2, shrinkB=0,
                            relpos=(0.3, 0.0)))
for tx, ty in [(42.57, 0.013), (42.99, 0.003)]:
    ax.annotate('', xy=(tx, ty), xytext=(41.0, 0.022), zorder=8,
                arrowprops=dict(arrowstyle='->,head_length=0.4,head_width=0.2', color=RED, lw=0.9,
                                shrinkA=0, shrinkB=0))
ax.text(38.69, 0.0225, 'IBM samples\n2R-1; 3R-CC', color=RED, fontsize=11.5, ha='center',
        va='center', linespacing=1.05, zorder=8)

# ---- (e)
ax = ax_e
setup(ax, (36, 50), (0, 4.5), 2, 1, 0.5, None, MG, AL, '(e)')
hull(ax, e_hor_x, e_hor_y, GREY_FILL, fill=True, z=1)
for xs, ys in zip(e_iso_x, e_iso_y):
    ax.plot(xs, ys, color='#8c8c8c', lw=1.5, zorder=2)
ax.plot(e_ldash_x, e_ldash_y, color='black', lw=2.2, ls=(0, (8, 3)), zorder=4)
ax.plot(e_dash2_x, e_dash2_y, color='black', lw=1.8, ls=(0, (5, 2)), zorder=4)
ax.plot(e_solid_x, e_solid_y, color='black', lw=2.0, zorder=4)
ax.plot(e_thin_x, e_thin_y, color='black', lw=0.9, zorder=4)
ax.plot(e_dot_x, e_dot_y, color='black', lw=0.9, ls=(0, (2, 1.5)), zorder=4)
ax.plot(e_tdash_x, e_tdash_y, color='black', lw=0.9, ls=(0, (7, 3)), zorder=4)
hull(ax, e_green_x, e_green_y, GREEN)
hull(ax, e_blue_x, e_blue_y, BLUE)
hull(ax, e_yel_x, e_yel_y, YELLOW)
tubaf(ax, e_tub_mg, e_tub_al, e_res_mg, e_res_al, e_ssz_mg, e_ssz_al)
stars(ax, kr_e, dmm_e)
for tx, ty in [(42.66, 0.99), (42.99, 0.39)]:
    ax.annotate('', xy=(tx, ty), xytext=(41.6, 0.69), zorder=8,
                arrowprops=dict(arrowstyle='->,head_length=0.4,head_width=0.2', color=RED, lw=0.9,
                                shrinkA=0, shrinkB=0))
ax.text(39.39, 0.73, 'IBM samples\n2R-1; 3R-CC', color=RED, fontsize=11.5, ha='center',
        va='center', linespacing=1.05, zorder=8)

# ---- (f)
ax = ax_f
setup(ax, (36, 50), (0, 0.4), 2, 1, 0.1, 0.05, MG, r'Na$_\mathbf{2}$O (wt%)', '(f)')
hull(ax, f_hor_x, f_hor_y, GREY_FILL, fill=True, z=1)
hull(ax, f_green_x, f_green_y, GREEN)
hull(ax, f_red_x, f_red_y, RED)
hull(ax, f_yel_x, f_yel_y, YELLOW)
ax.plot(f_off_mg, f_off_na, 'o', ms=6, mfc=GREEN_DOT, mec='#1c3d26', mew=0.7, ls='none', zorder=5)
ax.plot(f_cra_mg, f_cra_na, 'o', ms=6, mfc=YELLOW, mec='#3c3c10', mew=0.7, ls='none', zorder=5)
tubaf(ax, f_tub_mg, f_tub_na, f_res_mg, f_res_na, f_ssz_mg, f_ssz_na)
stars(ax, kr_f, dmm_f)
ax.annotate('', xy=(41.85, 0.020), xytext=(36.60, 0.261), zorder=6,
            arrowprops=dict(arrowstyle='->,head_length=0.6,head_width=0.35', color=ORANGE, lw=2.2))

# ---- legend box
lg = fig.add_axes(box(333, 801, 839, 896))
lg.set_xlim(0, 506)
lg.set_ylim(95, 0)
lg.set_xticks([])
lg.set_yticks([])
for s in lg.spines.values():
    s.set_linewidth(1.2)
    s.set_color('#555555')
tk = dict(fontsize=LEG_FS, family=LEG_FAMILY, va='center', linespacing=1.0)
lg.plot(10, 22, 'o', ms=9, mfc=PURPLE, mec='#222222', mew=0.9)
lg.text(22, 22, 'TUBAF (this study)', **tk)
lg.plot(10, 58, 'o', ms=3.5, mfc=PURPLE, mec='none')
lg.text(22, 65, 'TUBAF (residual;\nliterature)', **tk)
lg.plot(160, 15, 'o', ms=4, mfc='none', mec=RED, mew=0.8)
lg.text(172, 22, 'Residual SSZ\nperidotites (literature)', **tk)
lg.add_patch(Ellipse((160, 51), 22, 13, fc='white', ec=RED, lw=2.0))
lg.plot(160, 51, 'o', ms=4, mfc='none', mec=RED, mew=0.8)
lg.text(172, 69, 'Serpentinized residual\nSSZ peridotites\n(dredged; IBM literature)', **tk)
for yy, col, lab in [(21, GREEN, 'Off-craton'), (41, BLUE, 'Abyssal'), (61, YELLOW, 'Cratonic')]:
    lg.add_patch(Ellipse((347, yy), 22, 14, fc='white', ec=col, lw=2.0))
    lg.plot(347, yy, 'o', ms=5, mfc=col, mec='#222222', mew=0.7)
    lg.text(359, yy, lab, **tk)
lg.add_patch(Ellipse((347, 79), 22, 9, fc=GREY_FILL, ec='none'))
lg.text(359, 79, 'Horoman', **tk)
lg.add_patch(PathPatch(Path([(425, 12), (442, 50), (425, 88)],
                            [Path.MOVETO, Path.CURVE3, Path.CURVE3]),
                       fc='none', ec='black', lw=2.6))
lg.text(438, 50, 'Residual\nperidotites\n(literature)', **tk)

fig.savefig('out.png', dpi=100)
